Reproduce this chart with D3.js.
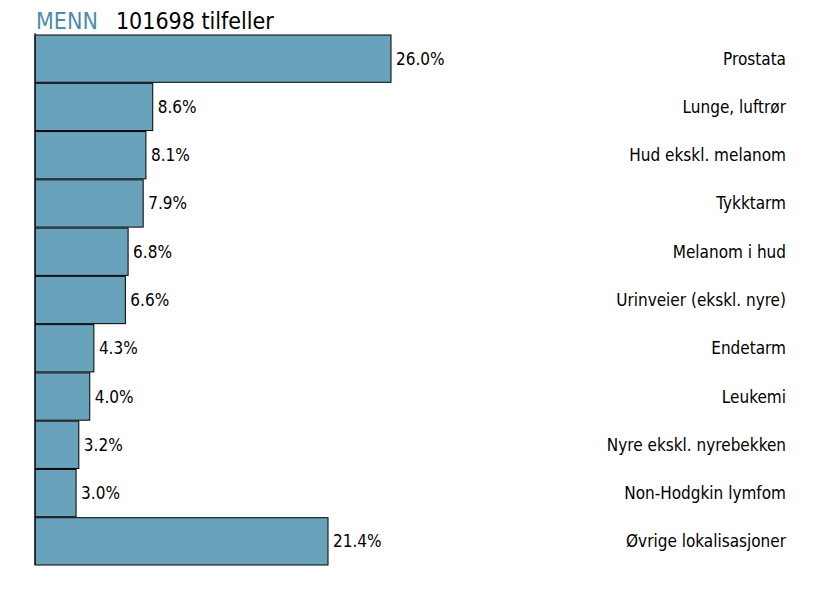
<!DOCTYPE html>
<html><head><meta charset="utf-8">
<script src="https://cdn.jsdelivr.net/npm/d3@7"></script>
<style>body{margin:0;background:#fff}</style>
</head><body>
<script>
const categories = ["Prostata","Lunge, luftrør","Hud ekskl. melanom","Tykktarm","Melanom i hud","Urinveier (ekskl. nyre)","Endetarm","Leukemi","Nyre ekskl. nyrebekken","Non-Hodgkin lymfom","Øvrige lokalisasjoner"];
const values = [26.0,8.6,8.1,7.9,6.8,6.6,4.3,4.0,3.2,3.0,21.4];
const groupLabel = "MENN";
const titleText = "101698 tilfeller";

const W=825,H=600;
const svg=d3.select("body").append("svg").attr("width",W).attr("height",H);
const font="'DejaVu Sans Condensed','DejaVu Sans',sans-serif";
const x=d3.scaleLinear().domain([0,26]).range([35,391]);
const y=d3.scaleBand().domain(categories).range([35,565]).paddingInner(0.02).paddingOuter(0);

svg.append("g").selectAll("rect").data(values).join("rect")
 .attr("x",x(0)).attr("y",(d,i)=>y(categories[i]))
 .attr("width",d=>x(d)-x(0)).attr("height",y.bandwidth())
 .attr("fill","#68a2bb").attr("stroke","#000").attr("stroke-width",1);

svg.append("line").attr("x1",x(0)).attr("x2",x(0)).attr("y1",33).attr("y2",565).attr("stroke","#000");

svg.append("g").selectAll("text").data(values).join("text")
 .attr("x",d=>x(d)+5).attr("y",(d,i)=>y(categories[i])+y.bandwidth()/2+6)
 .attr("font-family",font).attr("font-size",17).text(d=>d.toFixed(1)+"%");

svg.append("g").selectAll("text").data(categories).join("text")
 .attr("x",786).attr("y",d=>y(d)+y.bandwidth()/2+6).attr("text-anchor","end")
 .attr("font-family",font).attr("font-size",17).text(d=>d);

const t=svg.append("text").attr("x",36).attr("y",29).attr("font-family",font).attr("font-size",23);
t.append("tspan").attr("fill","#4d8cab").text(groupLabel);
t.append("tspan").attr("fill","#000").attr("dx",18).text(titleText);
</script>
</body></html>
